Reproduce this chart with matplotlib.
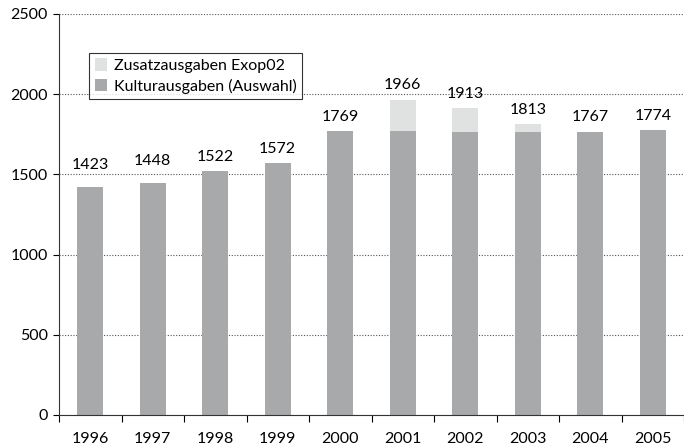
import matplotlib.pyplot as plt
import numpy as np

years = ['1996', '1997', '1998', '1999', '2000', '2001', '2002', '2003', '2004', '2005']
kultur = [1423, 1448, 1522, 1572, 1769, 1769, 1762, 1762, 1767, 1774]
zusatz = [0, 0, 0, 0, 0, 197, 151, 51, 0, 0]
totals = [1423, 1448, 1522, 1572, 1769, 1966, 1913, 1813, 1767, 1774]

plt.rcParams['font.family'] = ['Lato', 'DejaVu Sans']

fig = plt.figure(figsize=(6.84, 4.46), dpi=100)
ax = fig.add_axes([59/684, 1 - 415/446, 1 - 59/684, (415 - 14)/446])

x = np.arange(len(years))
w = 0.41
ax.bar(x, kultur, w, color='#a8a9ab', label='Kulturausgaben (Auswahl)', zorder=2)
ax.bar(x, zusatz, w, bottom=kultur, color='#e0e1e1', label='Zusatzausgaben Exop02', zorder=2)

# etwas mehr Abstand bei den niedrigen Balken, wie im Original
for xi, t in zip(x, totals):
    off = 95 if t < 1500 else 45
    ax.text(xi, t + off, str(t), ha='center', va='bottom', fontsize=11.5)

ax.set_ylim(0, 2500)
ax.set_xlim(-0.5, 9.42)
ax.set_yticks(range(0, 2501, 500))
ax.yaxis.grid(True, linestyle=(0, (1, 1.5)), color='#555555', linewidth=0.8, zorder=0)

ax.set_xticks(np.arange(-0.5, 10, 1))
ax.set_xticklabels([])
ax.set_xticks(x, minor=True)
ax.set_xticklabels(years, minor=True)
ax.tick_params(axis='x', which='minor', length=0, pad=12, labelsize=11.5)
ax.tick_params(axis='x', which='major', length=5, width=0.8, direction='out')
ax.tick_params(axis='y', length=4, width=0.8, labelsize=11.5, pad=4)

for s in ['top', 'right']:
    ax.spines[s].set_visible(False)
ax.spines['left'].set_color('#333333')
ax.spines['bottom'].set_color('#333333')

h, l = ax.get_legend_handles_labels()
leg = ax.legend(h[::-1], l[::-1], loc='upper left', bbox_to_anchor=(0.048, 0.903),
                borderaxespad=0, frameon=True, fancybox=False, fontsize=11.5,
                handlelength=0.8, handleheight=0.8, handletextpad=0.4,
                borderpad=0.35, labelspacing=0.35)
leg.get_frame().set_edgecolor('black')
leg.get_frame().set_linewidth(0.8)

fig.savefig('out.png', dpi=100)
